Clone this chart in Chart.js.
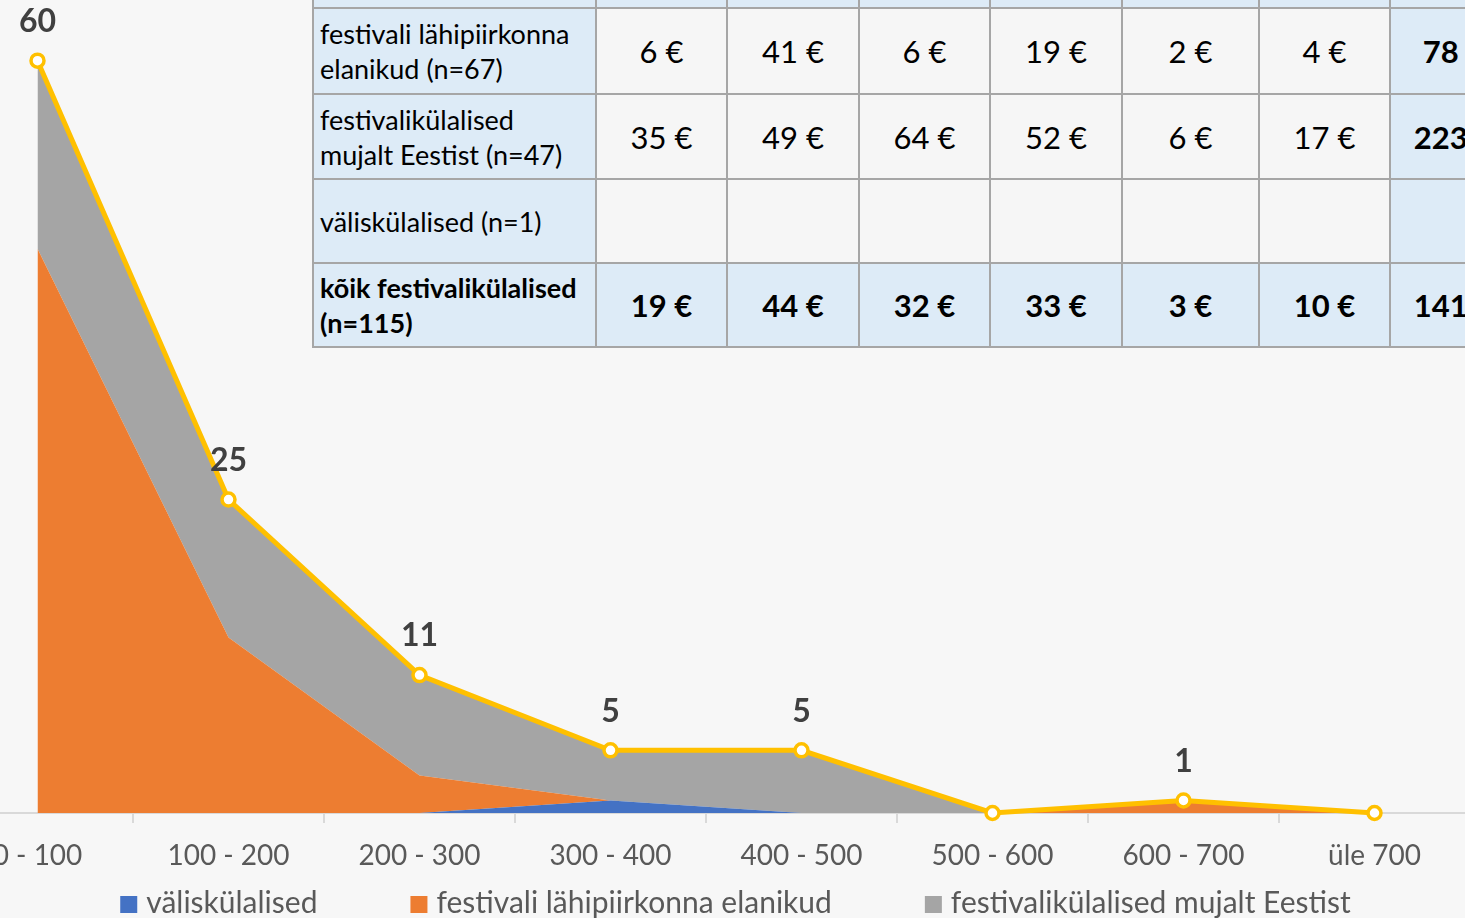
<!DOCTYPE html>
<html>
<head>
<meta charset="utf-8">
<script src="https://cdn.jsdelivr.net/npm/chart.js@4.4.1/dist/chart.umd.min.js"></script>
<style>
  html, body { margin: 0; padding: 0; width: 1465px; height: 918px; overflow: hidden; background: #f7f7f7; }
  #wrap { position: absolute; left: -58px; top: -2px; width: 1586px; height: 960px; }
  #spend {
    position: absolute; left: 312px; top: -75px; z-index: 2;
    display: grid; gap: 2px; padding: 2px; background: #a6a6a6;
    grid-template-columns: 281px 129px 130px 129px 130px 135px 129px 125px;
    grid-template-rows: 80px 84px 83px 82px 82px;
    font-family: Lato, "Open Sans", sans-serif; color: #000;
  }
  #spend div { background: #f6f6f6; display: flex; align-items: center; justify-content: center; font-size: 31px; white-space: nowrap; }
  #spend div.blue { background: #ddebf7; }
  #spend div.lab { justify-content: flex-start; padding-left: 6px; font-size: 27px; line-height: 35px; white-space: normal; }
  #spend div.b { font-weight: 700; }
</style>
</head>
<body>
<div id="wrap"><canvas id="c" width="1586" height="960"></canvas></div>
<div id="spend"></div>
<script>
// Visitors by spending range (€)
const categories = ['0 - 100', '100 - 200', '200 - 300', '300 - 400', '400 - 500', '500 - 600', '600 - 700', 'üle 700'];
const foreignGuests  = [0, 0, 0, 1, 0, 0, 0, 0];
const localResidents = [45, 14, 3, 0, 0, 0, 1, 0];
const domesticGuests = [15, 11, 8, 4, 5, 0, 0, 0];
const allGuests      = [60, 25, 11, 5, 5, 0, 1, 0];

// Average spending per group (€), last column is the total
const rowLabels = [
  ['festivali lähipiirkonna', 'elanikud (n=67)'],
  ['festivalikülalised', 'mujalt Eestist (n=47)'],
  ['väliskülalised (n=1)'],
  ['kõik festivalikülalised', '(n=115)']
];
const spendLocal    = [6, 41, 6, 19, 2, 4, 78];
const spendDomestic = [35, 49, 64, 52, 6, 17, 223];
const spendForeign  = [null, null, null, null, null, null, null];
const spendAll      = [19, 44, 32, 33, 3, 10, 141];

// build the spending table
(function () {
  const t = document.getElementById('spend');
  const cell = (txt, cls) => { const d = document.createElement('div'); d.className = cls; d.innerHTML = txt; t.appendChild(d); };
  for (let i = 0; i < 8; i++) cell('', 'blue');
  const rows = [spendLocal, spendDomestic, spendForeign, spendAll];
  rows.forEach((vals, r) => {
    const last = r === rows.length - 1;
    cell(rowLabels[r].join('<br>'), 'blue lab' + (last ? ' b' : ''));
    vals.forEach((v, c) => {
      const total = c === vals.length - 1;
      let cls = (last || total) ? 'blue' : '';
      if (last || total) cls += ' b';
      cell(v === null ? '' : v + ' €', cls);
    });
  });
})();

const FONT = 'Lato, "Open Sans", sans-serif';

// value labels above the total line
const pointLabels = {
  id: 'pointLabels',
  afterDatasetsDraw(chart) {
    const ctx = chart.ctx;
    const meta = chart.getDatasetMeta(0);
    ctx.save();
    ctx.font = 'bold 32px ' + FONT;
    ctx.fillStyle = '#404040';
    ctx.textAlign = 'center';
    ctx.textBaseline = 'middle';
    meta.data.forEach((pt, i) => {
      if (allGuests[i]) ctx.fillText(String(allGuests[i]), pt.x, pt.y - 39);
    });
    ctx.restore();
  }
};

// legend row for the stacked groups
const bottomLegend = {
  id: 'bottomLegend',
  afterDraw(chart) {
    const ctx = chart.ctx;
    ctx.save();
    ctx.font = '30px ' + FONT;
    const items = chart.data.datasets.filter(d => d.stack === 'groups');
    const box = 17, gap = 9, spacing = 93;
    const widths = items.map(d => box + gap + ctx.measureText(d.label).width);
    const total = widths.reduce((a, b) => a + b, 0) + spacing * (items.length - 1);
    let x = 793.5 - total / 2;
    const base = 915;
    items.forEach((d, i) => {
      ctx.fillStyle = d.backgroundColor;
      ctx.fillRect(x, base - 17, box, box);
      ctx.fillStyle = '#595959';
      ctx.textBaseline = 'alphabetic';
      ctx.fillText(d.label, x + box + gap, base);
      x += widths[i] + spacing;
    });
    ctx.restore();
  }
};

new Chart(document.getElementById('c'), {
  type: 'line',
  data: {
    labels: categories,
    datasets: [
      {
        label: 'kõik festivalikülalised', data: allGuests, stack: 'total', order: 0, clip: false,
        borderColor: '#FFC000', borderWidth: 5, fill: false, tension: 0,
        pointRadius: 6.5, pointBorderWidth: 3.5, pointBackgroundColor: '#ffffff', pointBorderColor: '#FFC000'
      },
      {
        label: 'väliskülalised', data: foreignGuests, stack: 'groups', order: 1,
        backgroundColor: '#4472C4', borderWidth: 0, pointRadius: 0, fill: 'origin', tension: 0
      },
      {
        label: 'festivali lähipiirkonna elanikud', data: localResidents, stack: 'groups', order: 2,
        backgroundColor: '#ED7D31', borderWidth: 0, pointRadius: 0, fill: '-1', tension: 0
      },
      {
        label: 'festivalikülalised mujalt Eestist', data: domesticGuests, stack: 'groups', order: 3,
        backgroundColor: '#A5A5A5', borderWidth: 0, pointRadius: 0, fill: '-1', tension: 0
      }
    ]
  },
  options: {
    responsive: false,
    animation: false,
    devicePixelRatio: 1,
    layout: { autoPadding: false, padding: { left: 0, right: 58, top: 0, bottom: 45 } },
    plugins: { legend: { display: false }, tooltip: { enabled: false } },
    scales: {
      x: {
        offset: true,
        grid: { offset: true, drawOnChartArea: false, drawTicks: true, tickLength: 10, color: '#d9d9d9', lineWidth: 2 },
        border: { display: true, color: '#d9d9d9', width: 2 },
        ticks: { font: { family: FONT, size: 28 }, color: '#595959', padding: 16, maxRotation: 0, autoSkip: false },
        afterFit: s => { s.height = 100; }
      },
      y: { display: false, stacked: true, min: 0, max: 65 }
    }
  },
  plugins: [pointLabels, bottomLegend]
});
</script>
</body>
</html>
